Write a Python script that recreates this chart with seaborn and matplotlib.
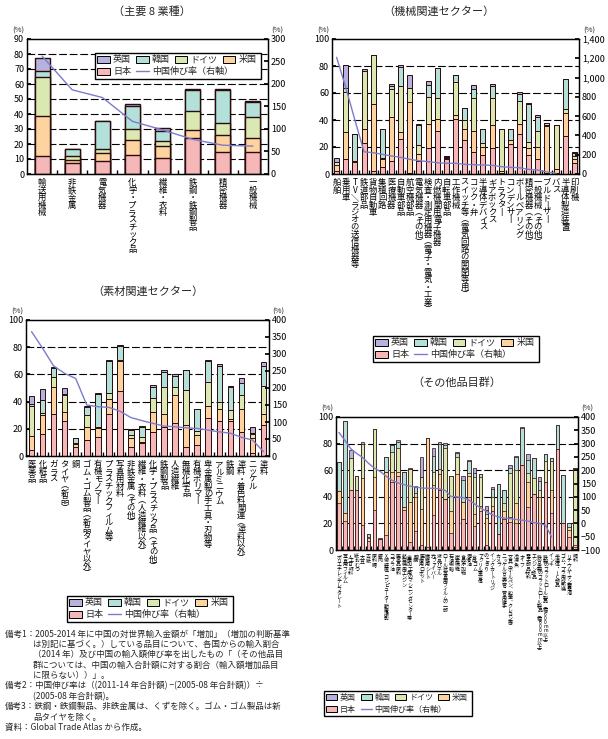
import numpy as np
import pandas as pd
import matplotlib
matplotlib.use('Agg')
import matplotlib.pyplot as plt
import seaborn as sns
from matplotlib.patches import Patch, Rectangle
from matplotlib.lines import Line2D
from matplotlib.ticker import FuncFormatter

sns.set_theme(style='white')
plt.rcParams['font.family'] = ['Noto Sans CJK JP', 'DejaVu Sans']
plt.rcParams['axes.edgecolor'] = 'black'
plt.rcParams['axes.linewidth'] = 0.9
plt.rcParams['xtick.direction'] = 'in'
plt.rcParams['ytick.direction'] = 'in'
plt.rcParams['xtick.color'] = 'black'
plt.rcParams['ytick.color'] = 'black'

# 主要8業種
p1_labels = ['輸送用機械', '非鉄金属', '電気機器', '化学・プラスチック品', '繊維・衣料',
             '鉄鋼・鉄鋼製品', '精密機器', '一般機械']
p1_jp = [12, 7.5, 8.5, 13, 11, 24, 15, 15]
p1_us = [26.5, 2, 5.5, 10, 7.5, 5.5, 11, 9]
p1_de = [26, 2.5, 2.5, 7, 3.5, 12.5, 8, 14]
p1_kr = [4.5, 4.5, 19, 15.5, 6.5, 14, 22, 10]
p1_uk = [8.5, 0, 0, 1.5, 2, 1, 1, 1]
p1_cn = [262, 187, 170, 117, 98, 77, 64, 62]

# 機械関連セクター
p2_labels = ['船舶', '乗用車', 'TV／ラジオの送信機器等', '鉄道部品', '貨物自動車', '集積回路',
             '医療機器', '自動車部品', '航空機部品', '電気機器（その他）',
             '検査・測定用機器（電子・電気・工業）', '内燃機関用電子機器', '自転車部品', '工作機械',
             'スイッチ等（電気回路の開閉等用）', 'コック・弁', '半導体デバイス', 'ギアボックス',
             'トラクター', 'コンデンサー', 'ボールベアリング', '精密機器（その他）',
             '一般機械（その他）', 'ブルドーザー', 'バス', '半導体製造装置', '印刷機']
p2_jp = [2, 11, 9, 23, 2, 5, 10, 26, 1, 10, 19, 32, 11, 41, 25, 16, 14, 19, 1, 22.5, 29.5, 14, 11, 1, 1, 28.5, 8]
p2_us = [4.5, 20, 1, 10, 50, 6, 32, 5, 52, 5, 18, 8.5, 1, 3, 8, 16, 6, 17.5, 1, 3, 7.5, 5, 9, 34.5, 2.5, 16.5, 3]
p2_de = [2.5, 30, 0, 43, 36, 1, 21, 34, 11, 6.5, 20, 15.5, 0.5, 24, 7, 24, 3, 20, 31, 0, 17, 5, 12, 1, 33, 3.5, 2.5]
p2_kr = [0, 3, 20, 0, 0, 21, 2, 14, 0, 15, 9, 22.5, 0.5, 5.5, 9, 7, 10, 9, 0, 7.5, 5, 28, 10, 1.5, 0, 22, 2]
p2_uk = [3, 17, 0, 1.5, 0, 0, 2, 1.5, 9, 0.5, 3, 0, 0.5, 0, 0, 3, 0.5, 1.5, 0, 0, 1.5, 0.5, 1.5, 0, 0, 0, 0.5]
p2_cn = [1210, 900, 560, 230, 221, 204, 187, 173, 152, 138, 128, 117, 111, 111, 100, 97, 93, 90,
         76, 69, 65, 48, 41, 21, 7, np.nan, np.nan]

# 素材関連セクター
p3_labels = ['医薬品', '化粧品', 'ガラス', 'タイヤ（新品）', '銅', 'ゴム・ゴム製品（新品タイヤ以外）',
             '有機モノマー', 'プラスチックフィルム等', '写真用材料', '非鉄金属（その他）',
             '繊維・衣料（人造繊維以外）', '化学・プラスチック品（その他）', '鉄鋼製品', '人造繊維',
             '無機化学品', '有機ポリマー', '卑金属製の手工具・刃物等', 'アルミニウム', '鉄鋼',
             '塗料・着色料関連（塗料以外）', 'ニッケル', '塗料']
p3_jp = [4.5, 16, 31, 25.5, 6.5, 12, 14, 31, 48, 6.5, 9.5, 17.5, 21, 24.5, 6.5, 8, 28, 26, 26, 18, 2, 22.5]
p3_us = [10.5, 14, 19.5, 6.5, 2, 9, 6.5, 11, 22, 7, 1, 15, 10, 20.5, 16.5, 7.5, 9, 8.5, 1.5, 16.5, 11.5, 8.5]
p3_de = [21.5, 1.5, 7.5, 12.5, 1, 9, 1, 4, 0.5, 2, 3.5, 10, 19.5, 5.5, 25.5, 3, 17.5, 5, 6, 10, 3, 20.5]
p3_kr = [1.5, 10, 7, 1, 3.5, 6, 24, 23.5, 10.5, 3.5, 7, 8, 11.5, 8, 15, 16, 15.5, 27, 17.5, 9.5, 0.5, 15]
p3_uk = [6, 7.5, 0.5, 4.5, 0, 1, 0.5, 1, 0.5, 0.5, 1, 2, 1.5, 1.5, 0, 0, 0.5, 1.5, 0.5, 3, 4, 2.5]
p3_cn = [366, 317, 265, 243, 228, 150, 145, 143, 132, 113, 104, 96, 88, 86, 83, 81, 76, 71, 67, 55, 47, 13]

# その他品目群
p4_labels = ['ポリエチレンテレフタレート', '写真用フィルム', '人工甘味料', '紙おむつ', '大豆', '古紙',
             '原料糖', '豚肉', 'X線装置、コンピューター断層撮影', 'コプラ油', '医薬品原料', '航空機用エンジン',
             '金属加工用のマシニングセンター等', '眼鏡', '医療用ロボット', '繊維用シート', '光ファイバー',
             '液晶パネル', 'ロール状写真用フィルムの一部', '石油樹脂', '炭素繊維', '食品添加物',
             '潤滑油', '合成ゴム', 'アクリル重合体', 'のこぎり', 'インクカートリッジ', 'カメラ',
             'ニッケル合金の管・管用継手', '文具（ボールペン、鉛筆、クレヨン等）', '冷凍魚', 'ナイフ',
             '電子部品材料', 'エンジン部品', '鉄合金製のフラットロール製品（幅600mm以上）',
             '鉄製のフラットロール製品（幅600mm以上）', 'インキ', '半導体・IC部品', 'ゴム・プラ用成形機',
             'リチウムイオン蓄電池', '飼料']
p4_jp = [35, 22, 45, 45, 19, 7, 30, 8, 11, 51, 56, 30, 6, 14, 4, 2, 26, 45, 38, 13, 40, 23, 40, 18,
         29, 4, 29, 12, 23, 21, 20, 64, 32, 42, 20, 51, 28, 76, 20, 10, 2]
p4_us = [9, 6, 0, 0, 35, 2, 25, 0, 48, 8, 3, 2, 30, 26, 27, 82, 23, 12, 0, 16, 17, 13, 16, 9,
         4, 20, 4, 0, 6, 4, 15, 0, 19, 0, 20, 0, 17, 0, 0.5, 5, 2]
p4_de = [0, 0, 24, 11, 26, 1, 36, 0, 0, 15, 18, 0, 25, 3, 24, 0, 10, 4, 39, 27, 13, 0, 2, 28,
         22, 3, 7, 0, 6, 33, 25, 0, 7, 12, 5, 16, 22, 0, 0, 2, 56]
p4_kr = [22, 69, 0, 0, 0, 2, 0, 0, 11, 5, 4, 27, 0, 4, 0, 0, 12, 19, 2, 0, 3, 17, 9, 3,
         2, 3, 6, 38, 10, 4, 10, 28, 10, 15, 7, 5, 2, 18, 36, 3, 2]
p4_uk = [0, 0, 6, 0, 1, 0, 0, 1, 0, 0, 2, 0, 0.5, 1, 15, 0, 6, 1, 1.5, 0, 0.5, 3, 0.5, 4,
         0, 3, 1, 0, 0, 2, 0.5, 0.5, 4, 0.5, 3, 0, 0, 0, 0, 0, 0]
p4_cn = [342, 312, 281, 263, 248, 226, 208, 195, 177, 162, 152, 146, 140, 137, 133, 132, 132, 130,
         124, 101, 100, 97, 88, 73, 58, 45, 32, 24, 20, 18, 15, 12, 9, 3, 0, -7, -50,
         np.nan, np.nan, np.nan, np.nan]

COUNTRIES = ['日本', '米国', 'ドイツ', '韓国', '英国']
COLORS = {'英国': '#b5b3dd', '韓国': '#b3e0d8', 'ドイツ': '#dae9b1', '米国': '#fdd49f', '日本': '#f5b7b8'}
LINE_C = '#7d7bcb'
EDGE = '#2a0c0c'
CN_LABEL = '中国伸び率（右軸）'

VMAP = {'（': '︵', '）': '︶', 'ー': '丨', '／': '＼', '、': '︑'}


def tate(s):
    # 縦書き風に1文字ずつ改行
    return '\n'.join(VMAP.get(c, c) for c in s)


def draw_panel(ax, labels, parts, growth, ylim, ystep, y2lim, y2step, grid,
               width, lw, fs, ls, tfs=6.5, comma=False):
    n = len(labels)
    x = np.arange(n)
    cum = np.cumsum(np.array(parts, dtype=float), axis=0)
    for i in reversed(range(len(COUNTRIES))):
        sns.barplot(x=x, y=cum[i], color=COLORS[COUNTRIES[i]], width=width, edgecolor=EDGE,
                    linewidth=lw, saturation=1, native_scale=True, ax=ax, zorder=2)
    for g in grid:
        ax.axhline(g, color='black', lw=0.8, ls=(0, (7, 2.5)), zorder=1)
    ax.set_xlim(-0.5, n - 0.5)
    ax.set_ylim(*ylim)
    ax.set_yticks(np.arange(ylim[0], ylim[1] + 0.1, ystep))
    ax.tick_params(axis='y', labelsize=tfs, length=3, pad=2)
    ax.set_xticks(x)
    ax.set_xticklabels([tate(l) for l in labels], fontsize=fs, linespacing=ls, va='top')
    ax.tick_params(axis='x', which='major', length=0, pad=3)
    ax.set_xticks(x[:-1] + 0.5, minor=True)
    ax.tick_params(axis='x', which='minor', length=3, direction='in', bottom=True)
    ax.set_xlabel('')
    ax.set_ylabel('')

    ax2 = ax.twinx()
    df = pd.DataFrame({'x': x, 'g': growth}).dropna()
    sns.lineplot(data=df, x='x', y='g', ax=ax2, color=LINE_C, lw=1.0)
    ax2.set_ylim(*y2lim)
    ax2.set_yticks(np.arange(y2lim[0], y2lim[1] + 0.1, y2step))
    ax2.tick_params(axis='y', labelsize=tfs, length=3, pad=2)
    if comma:
        ax2.yaxis.set_major_formatter(FuncFormatter(lambda v, p: f'{v:,.0f}'))
    ax2.set_xlabel('')
    ax2.set_ylabel('')
    for a in (ax, ax2):
        for s in a.spines.values():
            s.set_color('black')
            s.set_linewidth(0.9)
    ax.text(-0.035, 1.035, '(%)', transform=ax.transAxes, ha='center', va='bottom', fontsize=5.5)
    ax.text(1.04, 1.035, '(%)', transform=ax.transAxes, ha='center', va='bottom', fontsize=5.5)
    return ax2


def add_legend(fig, x0, y0, fs, row_h):
    # 2段の凡例（上段4項目、下段2項目）を1つの枠で囲む
    h = {c: Patch(facecolor=COLORS[c], edgecolor='black', lw=0.7) for c in COUNTRIES}
    line = Line2D([0], [0], color=LINE_C, lw=1.0)
    kw = dict(loc='upper left', frameon=False, fontsize=fs, handlelength=1.4, handleheight=0.85,
              columnspacing=0.55, handletextpad=0.35, borderpad=0.25, borderaxespad=0)
    top = fig.legend([h['英国'], h['韓国'], h['ドイツ'], h['米国']], ['英国', '韓国', 'ドイツ', '米国'],
                     bbox_to_anchor=(x0, y0), ncol=4, **kw)
    bot = fig.legend([h['日本'], line], ['日本', CN_LABEL],
                     bbox_to_anchor=(x0, y0 - row_h), ncol=2, **kw)
    fig.canvas.draw()
    r = fig.canvas.get_renderer()
    b1 = top.get_window_extent(r)
    b2 = bot.get_window_extent(r)
    l = min(b1.x0, b2.x0)
    rr = max(b1.x1, b2.x1) + 2
    yb = b2.y0
    yt = b1.y1
    fr = Rectangle((l / W, yb / H), (rr - l) / W, (yt - yb) / H, transform=fig.transFigure,
                   facecolor='white', edgecolor='black', lw=1.0, zorder=9)
    fig.patches.append(fr)
    top.set_zorder(10)
    bot.set_zorder(10)


W, H = 608, 739
fig = plt.figure(figsize=(W / 100, H / 100), dpi=100)


def box(l, t, r, b):
    return [l / W, 1 - b / H, (r - l) / W, (b - t) / H]


ax1 = fig.add_axes(box(27, 39, 268, 174))
ax2 = fig.add_axes(box(332, 39, 579, 174))
ax3 = fig.add_axes(box(26, 320, 269, 456))
ax4 = fig.add_axes(box(336, 417, 578, 550))

draw_panel(ax1, p1_labels, [p1_jp, p1_us, p1_de, p1_kr, p1_uk], p1_cn, (0, 90), 10, (0, 300), 50,
           range(10, 90, 10), 0.5, 1.0, 6, 0.78)
draw_panel(ax2, p2_labels, [p2_jp, p2_us, p2_de, p2_kr, p2_uk], p2_cn, (0, 100), 20, (0, 1400), 200,
           range(20, 100, 20), 0.55, 0.7, 6, 0.78, comma=True)
draw_panel(ax3, p3_labels, [p3_jp, p3_us, p3_de, p3_kr, p3_uk], p3_cn, (0, 100), 20, (0, 400), 50,
           range(20, 100, 20), 0.5, 0.7, 6, 0.75)
draw_panel(ax4, p4_labels, [p4_jp, p4_us, p4_de, p4_kr, p4_uk], p4_cn, (0, 100), 20, (-100, 400), 50,
           range(20, 100, 20), 0.6, 0.5, 3.6, 0.78, tfs=6.5)

fig.text(152 / W, 1 - 12 / H, '（主要 8 業種）', ha='center', va='center', fontsize=8)
fig.text(439 / W, 1 - 12 / H, '（機械関連セクター）', ha='center', va='center', fontsize=8)
fig.text(148 / W, 1 - 292 / H, '（素材関連セクター）', ha='center', va='center', fontsize=8)
fig.text(457 / W, 1 - 383 / H, '（その他品目群）', ha='center', va='center', fontsize=8)

add_legend(fig, 95 / W, 1 - 53 / H, 6.5, 12 / H)
add_legend(fig, 373 / W, 1 - 336 / H, 6.5, 12 / H)
add_legend(fig, 67 / W, 1 - 596 / H, 6.5, 12 / H)
add_legend(fig, 324 / W, 1 - 691 / H, 5.8, 12 / H)

# 注記（見出し付きの行は1つの文字列、続きの行は字下げ）
notes = [
    (5, '備考1：2005-2014 年に中国の対世界輸入金額が「増加」（増加の判断基準'),
    (33, 'は別記に基づく。）している品目について、各国からの輸入割合'),
    (33, '（2014 年）及び中国の輸入額伸び率を出したもの「（その他品目'),
    (33, '群については、中国の輸入合計額に対する割合（輸入額増加品目'),
    (33, 'に限らない））」。'),
    (5, '備考2：中国伸び率は（(2011-14 年合計額) −(2005-08 年合計額)）÷'),
    (33, '(2005-08 年合計額)。'),
    (5, '備考3：鉄鋼・鉄鋼製品、非鉄金属は、くずを除く。ゴム・ゴム製品は新'),
    (33, '品タイヤを除く。'),
    (5, '資料：Global Trade Atlas から作成。'),
]
for i, (xp, txt) in enumerate(notes):
    y = 1 - (634 + i * 10.4) / H
    fig.text(xp / W, y, txt, ha='left', va='center', fontsize=6.1)

fig.savefig('out.png', dpi=100)
